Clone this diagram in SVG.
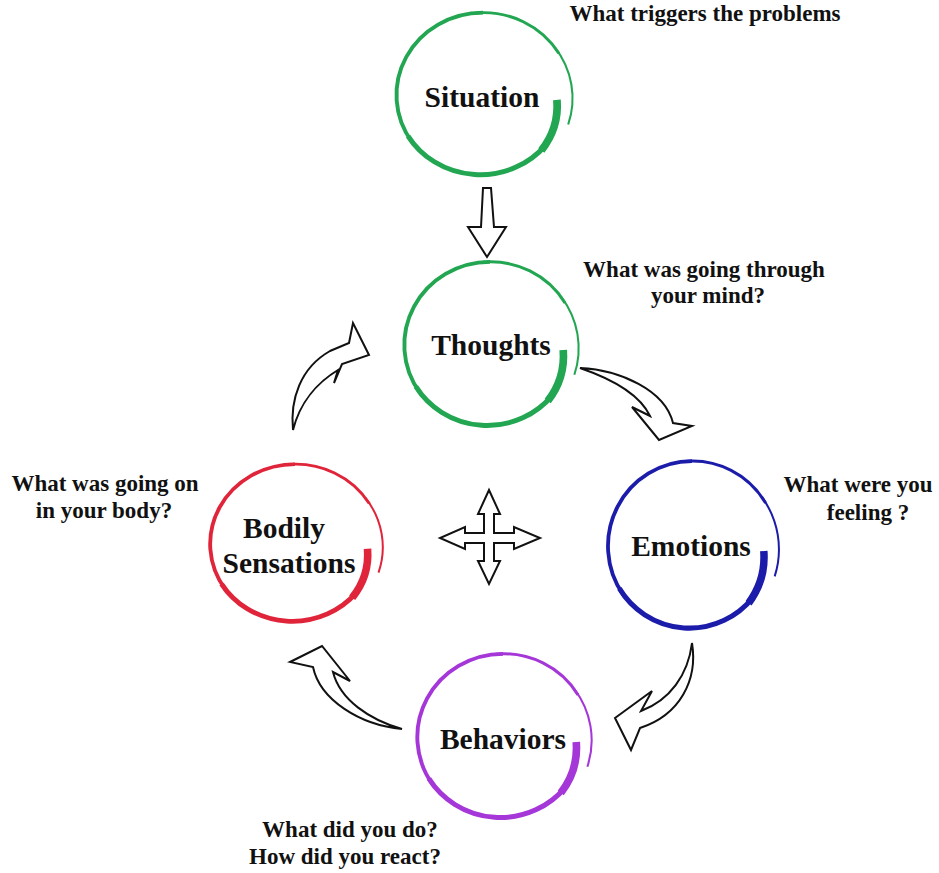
<svg xmlns="http://www.w3.org/2000/svg" xmlns:xlink="http://www.w3.org/1999/xlink" width="939" height="873" viewBox="0 0 939 873">
  <style>
    .lbl { font-family: "Liberation Serif", "Times New Roman", serif; font-weight: bold; font-size: 29.5px; fill: #111; text-anchor: middle; }
    .note { font-family: "Liberation Serif", "Times New Roman", serif; font-weight: bold; font-size: 23px; fill: #111; text-anchor: middle; }
    .arrow { fill: #fff; stroke: #111; stroke-width: 2; stroke-linejoin: miter; }
    .ring path { fill: none; stroke-linecap: butt; }
  </style>
  <defs>
    <g id="ring" class="ring">
      <path d="M71.8,5 A76,76 0 0 1 56.6,56.6" stroke-width="7.5"/>
      <path d="M60.9,51.1 A82,82 0 0 1 -72.7,42" stroke-width="5"/>
      <path d="M-68.8,48.2 A84,84 0 0 1 0,-84" stroke-width="3.8"/>
      <path d="M-7.3,-83.7 A85,85 0 0 1 73.6,-42.5" stroke-width="3"/>
      <path d="M69.6,-48.8 A87,87 0 0 1 82.7,30.1" stroke-width="2"/>
    </g>
  </defs>
  <rect width="939" height="873" fill="#fff"/>

  <g id="connectors">
    <polygon class="arrow" points="483,188 491,188 494,227 506,227 487,257 468,227 481,227"/>
    <path class="arrow" d="M293,430 C290,400 300,368 330,351 L349,343 L353,323 L369,355 L342,364 L334,383 L338,370 C318,382 300,402 293,430 Z"/>
    <path class="arrow" d="M580,368 C620,370 665,390 673,423 L692,426 L659,440 L632,407 L650,416 C640,395 615,380 580,368 Z"/>
    <path class="arrow" d="M692,643 C698,680 680,715 640,728 L631,750 L615,718 L652,691 L641,711 C670,700 688,675 692,643 Z"/>
    <path class="arrow" d="M402,729 C360,725 320,700 313,667 L290,662 L322,646 L350,681 L333,672 C340,700 370,720 402,729 Z"/>
    <polygon class="arrow" points="489,490 500,514 494,514 494,533 514,533 514,527 540,538 514,549 514,543 494,543 494,561 500,561 489,584 478,561 484,561 484,543 465,543 465,549 440,538 465,527 465,533 484,533 484,514 478,514"/>
  </g>

  <g id="situation">
    <use xlink:href="#ring" transform="translate(483,95) scale(1.03,0.98)" stroke="#22a651"/>
    <text class="lbl" x="482" y="107">Situation</text>
  </g>
  <g id="thoughts">
    <use xlink:href="#ring" transform="translate(490,345) scale(1.02,0.99)" stroke="#22a651"/>
    <text class="lbl" x="491" y="355">Thoughts</text>
  </g>
  <g id="emotions">
    <use xlink:href="#ring" transform="translate(692,546) scale(1,1.01)" stroke="#1c1caa"/>
    <text class="lbl" x="691" y="556">Emotions</text>
  </g>
  <g id="bodily">
    <use xlink:href="#ring" transform="translate(295,544) scale(1.01,0.95)" stroke="#e0253b"/>
    <text class="lbl" x="284" y="538">Bodily</text>
    <text class="lbl" x="289" y="573">Sensations</text>
  </g>
  <g id="behaviors">
    <use xlink:href="#ring" transform="translate(503,737) scale(1.02,0.99)" stroke="#a537d8"/>
    <text class="lbl" x="503" y="749">Behaviors</text>
  </g>

  <g id="notes">
    <text class="note" x="705" y="21">What triggers the problems</text>
    <text class="note" x="704" y="277">What was going through</text>
    <text class="note" x="708" y="303">your mind?</text>
    <text class="note" x="858" y="492">What were you</text>
    <text class="note" x="868" y="520">feeling ?</text>
    <text class="note" x="105" y="491">What was going on</text>
    <text class="note" x="104" y="518">in your body?</text>
    <text class="note" x="350" y="837">What did you do?</text>
    <text class="note" x="345" y="864">How did you react?</text>
  </g>
</svg>
